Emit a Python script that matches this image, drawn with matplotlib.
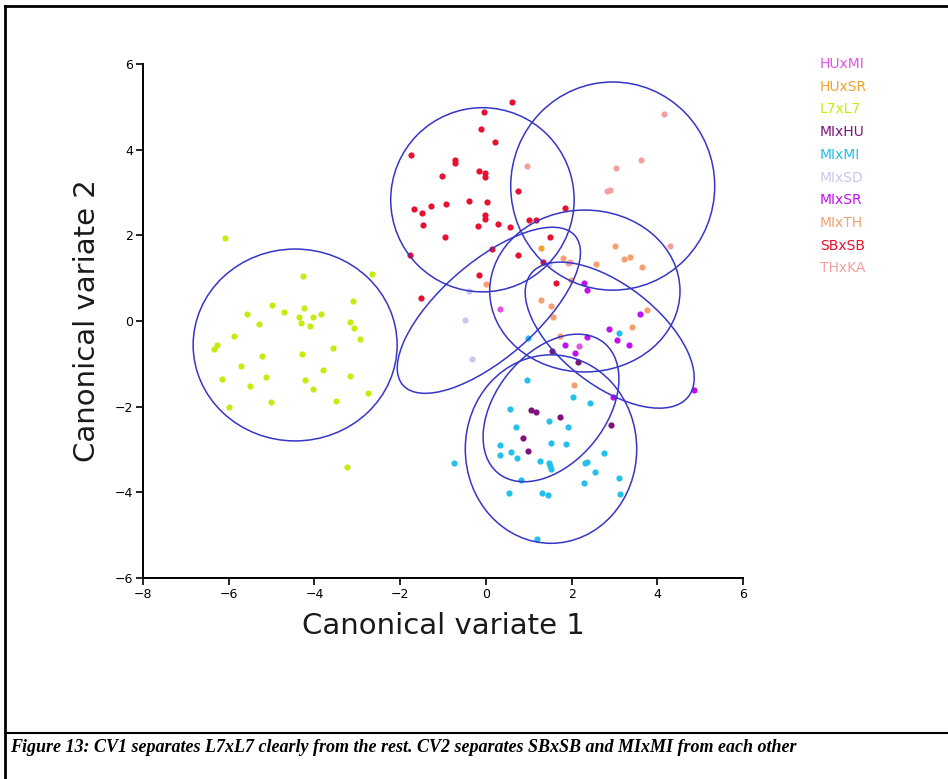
import numpy as np
import matplotlib.pyplot as plt
from matplotlib.patches import Ellipse
from matplotlib.lines import Line2D

# Canonical variate scores per cross
groups = ['HUxMI', 'HUxSR', 'L7xL7', 'MIxHU', 'MIxMI', 'MIxSD', 'MIxSR', 'MIxTH', 'SBxSB', 'THxKA']
colors = ['#e055e0', '#f2a030', '#c5ec10', '#7e127a', '#22c0ea', '#c8c8f0',
          '#c010ee', '#f4a070', '#e81030', '#f2a0a0']

huxmi = [(0.33, 0.29), (2.17, -0.59)]
huxsr = [(1.29, 1.70)]
l7xl7 = [(-6.09, 1.93), (-4.27, 1.06), (-2.66, 1.09), (-4.98, 0.38), (-4.25, 0.31),
         (-4.71, 0.20), (-5.58, 0.16), (-3.10, 0.47), (-4.36, 0.09), (-4.03, 0.10),
         (-3.85, 0.16), (-4.32, -0.04), (-4.11, -0.11), (-5.29, -0.08), (-3.16, -0.02),
         (-3.07, -0.16), (-5.88, -0.35), (-2.94, -0.43), (-6.28, -0.56), (-6.34, -0.65),
         (-3.56, -0.63), (-4.29, -0.77), (-5.23, -0.82), (-5.72, -1.04), (-3.80, -1.14),
         (-6.16, -1.35), (-5.13, -1.30), (-4.22, -1.38), (-3.18, -1.28), (-5.51, -1.52),
         (-4.03, -1.59), (-2.76, -1.67), (-6.00, -2.01), (-5.02, -1.88), (-3.49, -1.87),
         (-3.25, -3.40)]
mixhu = [(1.55, -0.69), (2.15, -0.96), (1.05, -2.08), (1.18, -2.12), (1.73, -2.25),
         (2.92, -2.42), (0.86, -2.72), (0.99, -3.04)]
miximi = [(3.10, -0.27), (0.98, -0.40), (0.95, -1.38), (2.03, -1.78), (2.43, -1.91),
          (0.56, -2.05), (1.47, -2.33), (1.91, -2.47), (0.70, -2.47), (1.51, -2.84),
          (1.88, -2.87), (0.33, -2.90), (0.33, -3.14), (0.58, -3.06), (0.72, -3.21),
          (2.76, -3.09), (1.26, -3.26), (1.47, -3.31), (1.49, -3.38), (1.51, -3.46),
          (2.31, -3.32), (2.35, -3.30), (-0.75, -3.32), (2.54, -3.53), (0.81, -3.71),
          (2.29, -3.78), (3.11, -3.67), (0.53, -4.01), (1.31, -4.01), (1.46, -4.06),
          (3.14, -4.04), (1.20, -5.10)]
mixsd = [(-0.40, 0.70), (-0.48, 0.02), (-0.33, -0.89), (1.48, 1.32)]
mixsr = [(2.29, 0.88), (2.35, 0.72), (3.59, 0.16), (2.87, -0.19), (3.07, -0.44),
         (3.33, -0.56), (2.37, -0.38), (1.85, -0.56), (2.09, -0.75), (2.97, -1.78),
         (4.86, -1.62)]
mixth = [(1.79, 1.48), (2.58, 1.32), (3.02, 1.75), (3.22, 1.45), (3.36, 1.49),
         (3.64, 1.26), (1.98, 0.95), (0.01, 0.87), (1.29, 0.48), (1.52, 0.36),
         (1.57, 0.10), (3.75, 0.26), (3.40, -0.13), (1.72, -0.35), (2.05, -1.50)]
sbxsb = [(0.61, 5.11), (-0.05, 4.89), (-0.12, 4.48), (0.21, 4.19), (-1.75, 3.88),
         (-0.72, 3.76), (-0.72, 3.70), (-0.16, 3.51), (-0.01, 3.46), (-0.02, 3.37),
         (-1.03, 3.39), (0.75, 3.04), (1.85, 2.63), (-1.67, 2.62), (-1.50, 2.51),
         (-1.27, 2.69), (-0.93, 2.74), (-0.40, 2.81), (0.02, 2.78), (-0.02, 2.47),
         (-0.02, 2.37), (-1.47, 2.23), (-0.19, 2.21), (0.28, 2.26), (0.56, 2.19),
         (1.01, 2.36), (1.16, 2.36), (-0.96, 1.95), (1.50, 1.97), (-1.76, 1.55),
         (0.14, 1.67), (0.75, 1.54), (1.34, 1.38), (-0.17, 1.07), (1.63, 0.89),
         (-1.52, 0.54)]
thxka = [(4.16, 4.84), (3.61, 3.76), (3.03, 3.58), (2.89, 3.07), (2.82, 3.04),
         (4.29, 1.75), (0.95, 3.63), (1.96, 1.38), (1.92, 1.36)]

points = [huxmi, huxsr, l7xl7, mixhu, miximi, mixsd, mixsr, mixth, sbxsb, thxka]

# confidence ellipses: centre x, centre y, width, height, angle
ell_center = [(-4.45, -0.56), (-0.08, 2.83), (2.96, 3.15), (0.07, 0.25),
              (2.31, 0.70), (2.89, -0.33), (1.52, -2.99), (1.52, -2.03)]
ell_width = [4.76, 4.28, 4.76, 5.32, 4.44, 4.66, 4.0, 3.92]
ell_height = [4.48, 4.30, 4.86, 2.24, 3.78, 2.34, 4.4, 2.56]
ell_angle = [0, 0, 0, 41, 0, -38, 0, 51]

fig = plt.figure(figsize=(9.48, 7.79), dpi=100)
ax = fig.add_axes([143 / 948, 1 - 578 / 779, 600 / 948, 514 / 779])

for pts, c in zip(points, colors):
    arr = np.array(pts)
    ax.scatter(arr[:, 0], arr[:, 1], s=20, color=c, linewidths=0, zorder=2)

for (cx, cy), w, h, a in zip(ell_center, ell_width, ell_height, ell_angle):
    ax.add_patch(Ellipse((cx, cy), w, h, angle=a, fill=False,
                         edgecolor='#3535c8', lw=1.1, zorder=3))

ax.set_xlim(-8, 6)
ax.set_ylim(-6, 6)
ax.set_xticks(np.arange(-8, 7, 2))
ax.set_yticks(np.arange(-6, 7, 2))
ax.set_xticklabels([str(v).replace('-', '\u2212') for v in range(-8, 7, 2)])
ax.set_yticklabels([str(v).replace('-', '\u2212') for v in range(-6, 7, 2)])
for s in ['top', 'right']:
    ax.spines[s].set_visible(False)
for s in ['left', 'bottom']:
    ax.spines[s].set_linewidth(1.4)
ax.tick_params(direction='out', length=5, width=1.2, labelsize=9, pad=2)
ax.set_xlabel('Canonical variate 1', fontsize=21, color='#1a1a1a', labelpad=8)
ax.set_ylabel('Canonical variate 2', fontsize=21, color='#1a1a1a', labelpad=10)

# coloured text legend
for i, (g, c) in enumerate(zip(groups, colors)):
    fig.text(820 / 948, 1 - (64 + i * 22.7) / 779, g, color=c, fontsize=10,
             va='center', ha='left')

# page frame and caption
fig.add_artist(Line2D([5 / 948, 1], [1 - 6 / 779] * 2, color='black', lw=2))
fig.add_artist(Line2D([5 / 948] * 2, [0, 1 - 6 / 779], color='black', lw=2))
fig.add_artist(Line2D([5 / 948, 1], [1 - 733 / 779] * 2, color='black', lw=1.5))
fig.text(10 / 948, 1 - 747 / 779,
         'Figure 13: CV1 separates L7xL7 clearly from the rest. CV2 separates SBxSB and MIxMI from each other',
         fontsize=13, fontweight='bold', style='italic', family='Liberation Serif',
         va='center', ha='left')

fig.savefig('out.png', dpi=100)
